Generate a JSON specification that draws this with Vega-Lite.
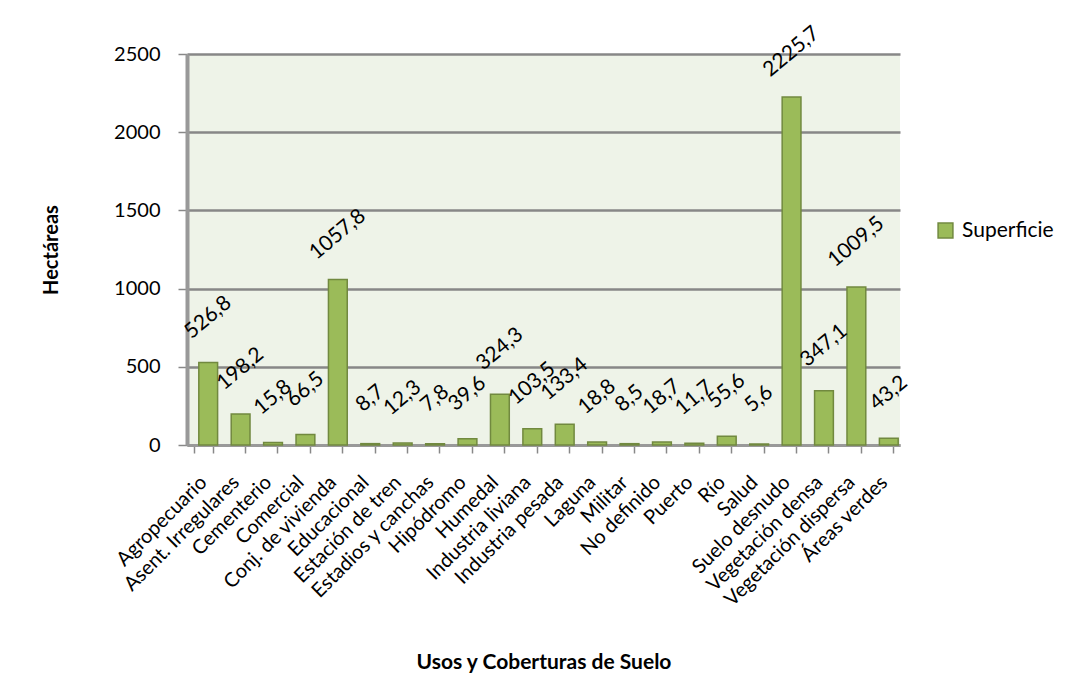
{
  "$schema": "https://vega.github.io/schema/vega-lite/v6.json",
  "autosize": "none",
  "width": 713,
  "height": 391,
  "padding": {"left": 187, "top": 54, "right": 178, "bottom": 245},
  "background": "white",
  "config": {
    "locale": {"number": {"decimal": ",", "thousands": ".", "grouping": [3], "currency": ["$", ""]}},
    "font": "Lato",
    "view": {"fill": "#EEF3E8", "stroke": null}
  },
  "data": {
    "values": [
      {"uso": "Agropecuario", "ha": 526.8, "serie": "Superficie"},
      {"uso": "Asent. Irregulares", "ha": 198.2, "serie": "Superficie"},
      {"uso": "Cementerio", "ha": 15.8, "serie": "Superficie"},
      {"uso": "Comercial", "ha": 66.5, "serie": "Superficie"},
      {"uso": "Conj. de vivienda", "ha": 1057.8, "serie": "Superficie"},
      {"uso": "Educacional", "ha": 8.7, "serie": "Superficie"},
      {"uso": "Estación de tren", "ha": 12.3, "serie": "Superficie"},
      {"uso": "Estadios y canchas", "ha": 7.8, "serie": "Superficie"},
      {"uso": "Hipódromo", "ha": 39.6, "serie": "Superficie"},
      {"uso": "Humedal", "ha": 324.3, "serie": "Superficie"},
      {"uso": "Industria liviana", "ha": 103.5, "serie": "Superficie"},
      {"uso": "Industria pesada", "ha": 133.4, "serie": "Superficie"},
      {"uso": "Laguna", "ha": 18.8, "serie": "Superficie"},
      {"uso": "Militar", "ha": 8.5, "serie": "Superficie"},
      {"uso": "No definido", "ha": 18.7, "serie": "Superficie"},
      {"uso": "Puerto", "ha": 11.7, "serie": "Superficie"},
      {"uso": "Río", "ha": 55.6, "serie": "Superficie"},
      {"uso": "Salud", "ha": 5.6, "serie": "Superficie"},
      {"uso": "Suelo desnudo", "ha": 2225.7, "serie": "Superficie"},
      {"uso": "Vegetación densa", "ha": 347.1, "serie": "Superficie"},
      {"uso": "Vegetación dispersa", "ha": 1009.5, "serie": "Superficie"},
      {"uso": "Áreas verdes", "ha": 43.2, "serie": "Superficie"}
    ]
  },
  "encoding": {
    "x": {
      "field": "uso", "type": "nominal", "sort": null,
      "scale": {"paddingInner": 0.42, "paddingOuter": 0.21},
      "axis": {
        "title": "Usos y Coberturas de Suelo",
        "titleFontSize": 21, "titleFontWeight": "bold", "titleColor": "#000",
        "titlePadding": 42,
        "labelAngle": -45, "labelAlign": "right", "labelBaseline": "middle",
        "labelFontSize": 20, "labelColor": "#000", "labelPadding": 26,
        "domainColor": "#999", "domainWidth": 3,
        "tickColor": "#888", "tickSize": 8, "tickWidth": 1.5, "tickBand": "extent"
      }
    },
    "y": {
      "field": "ha", "type": "quantitative",
      "scale": {"domain": [0, 2500], "nice": false},
      "axis": {
        "title": "Hectáreas", "titleFontSize": 20, "titleFontWeight": "bold", "titleColor": "#000",
        "titlePadding": 52,
        "values": [0, 500, 1000, 1500, 2000, 2500], "format": "d",
        "labelFontSize": 20, "labelColor": "#000", "labelPadding": 18,
        "domainColor": "#999", "domainWidth": 4,
        "tickColor": "#888", "tickSize": 9, "tickWidth": 1.5,
        "grid": true, "gridColor": "#878787", "gridWidth": 2.5
      }
    }
  },
  "layer": [
    {
      "mark": {"type": "bar", "stroke": "#71893F", "strokeWidth": 1.5, "xOffset": 5},
      "encoding": {
        "color": {
          "field": "serie", "type": "nominal",
          "scale": {"range": ["#9BBB59"]},
          "legend": {
            "title": null, "orient": "none", "legendX": 748, "legendY": 166,
            "symbolType": "square", "symbolSize": 220, "symbolStrokeColor": "#71893F", "symbolStrokeWidth": 1.5,
            "labelFontSize": 21, "labelColor": "#000", "labelOffset": 6
          }
        }
      }
    },
    {
      "mark": {"type": "text", "angle": -40, "align": "center", "baseline": "middle", "xOffset": 5, "yOffset": -45, "fontSize": 21, "color": "#000"},
      "encoding": {
        "text": {"field": "ha", "type": "quantitative", "format": ".1f"}
      }
    }
  ]
}
